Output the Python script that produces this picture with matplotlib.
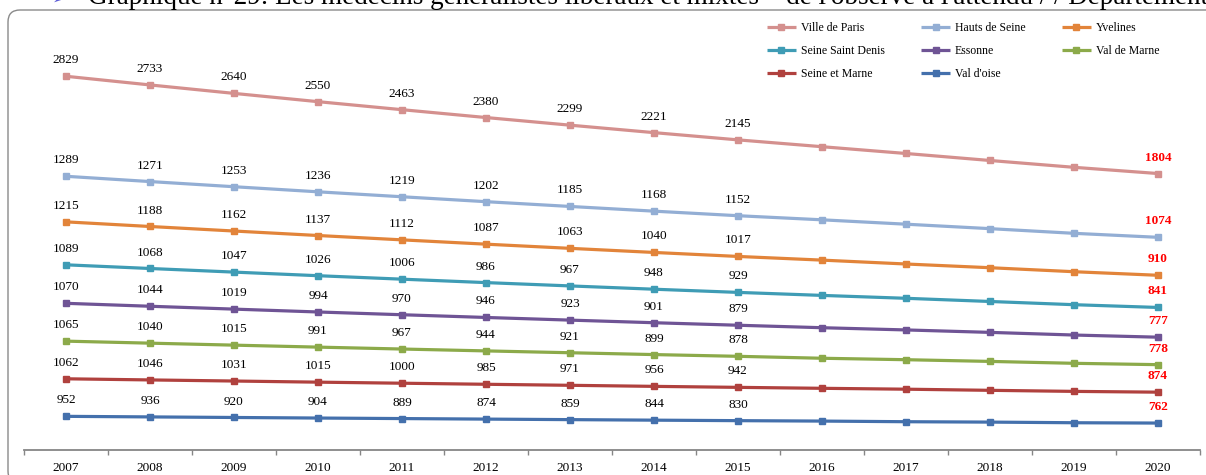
import numpy as np
import matplotlib
matplotlib.use('Agg')
import matplotlib.pyplot as plt
from matplotlib.patches import FancyBboxPatch
from matplotlib.transforms import IdentityTransform

plt.rcParams['font.family'] = ['Liberation Serif', 'DejaVu Serif']

# Données : effectifs par département (2016-2019)
annees = [str(a) for a in range(2007, 2021)]
departements = ['Ville de Paris', 'Hauts de Seine', 'Yvelines', 'Seine Saint Denis',
                'Essonne', 'Val de Marne', 'Seine et Marne', "Val d'oise"]
ville_de_paris = [2829, 2733, 2640, 2550, 2463, 2380, 2299, 2221, 2145, 2068, 2000, 1928, 1867, 1804]
hauts_de_seine = [1289, 1271, 1253, 1236, 1219, 1202, 1185, 1168, 1152, 1140, 1126, 1105, 1086, 1074]
yvelines = [1215, 1188, 1162, 1137, 1112, 1087, 1063, 1040, 1017, 998, 970, 955, 933, 910]
seine_saint_denis = [1089, 1068, 1047, 1026, 1006, 986, 967, 948, 929, 914, 895, 874, 858, 841]
essonne = [1070, 1044, 1019, 994, 970, 946, 923, 901, 879, 864, 842, 821, 800, 777]
val_de_marne = [1065, 1040, 1015, 991, 967, 944, 921, 899, 878, 850, 834, 818, 794, 778]
seine_et_marne = [1062, 1046, 1031, 1015, 1000, 985, 971, 956, 942, 927, 920, 899, 887, 874]
val_d_oise = [952, 936, 920, 904, 889, 874, 859, 844, 830, 818, 800, 789, 771, 762]
# années avec étiquette noire (2007-2015), la dernière en rouge
annees_etiquetees = annees[:9]

couleurs = ['#D4908E', '#93AED4', '#E2843A', '#3F9CB5',
            '#6F5495', '#8CAA4A', '#B0413E', '#4470AC']
series = [ville_de_paris, hauts_de_seine, yvelines, seine_saint_denis,
          essonne, val_de_marne, seine_et_marne, val_d_oise]

fig = plt.figure(figsize=(12.06, 4.75), dpi=100)
ax = fig.add_axes([24 / 1206, 25 / 475, 1176 / 1206, 420 / 475])
x = np.arange(len(annees))

# Courbes empilées : Val d'oise en bas, Ville de Paris en haut
cumul = np.zeros(len(annees))
lignes = {}
for nom, valeurs, coul in reversed(list(zip(departements, series, couleurs))):
    cumul = cumul + np.array(valeurs)
    l, = ax.plot(x, cumul, color=coul, lw=2.3, marker='s', markersize=4.5,
                 solid_capstyle='butt', zorder=3)
    lignes[nom] = l
    for i, v in enumerate(valeurs):
        if annees[i] in annees_etiquetees:
            ax.annotate(str(v), (i, cumul[i]), xytext=(0, 11.5), textcoords='offset points',
                        ha='center', va='center', fontsize=9.5, color='black')
        elif i == len(valeurs) - 1:
            ax.annotate(str(v), (i, cumul[i]), xytext=(0, 11.5), textcoords='offset points',
                        ha='center', va='center', fontsize=9.5, color='red', fontweight='bold')

ax.set_xlim(-0.5, len(annees) - 0.5)
ax.set_ylim(0, 11880)
for s in ['left', 'right', 'top']:
    ax.spines[s].set_visible(False)
ax.spines['bottom'].set_color('#868686')
ax.spines['bottom'].set_linewidth(1.3)
ax.set_yticks([])
ax.set_xticks(x)
ax.set_xticklabels(annees, fontsize=9.5)
ax.set_xticks(np.arange(-0.5, len(annees), 1), minor=True)
ax.tick_params(axis='x', which='major', length=0, pad=8.5)
ax.tick_params(axis='x', which='minor', length=3.6, width=1, color='#868686')

# Légende sur 3 colonnes, remplie ligne par ligne
ordre = ['Ville de Paris', 'Seine Saint Denis', 'Seine et Marne',
         'Hauts de Seine', 'Essonne', "Val d'oise",
         'Yvelines', 'Val de Marne']
fig.legend([lignes[n] for n in ordre], ordre, loc='upper left', ncol=3,
           bbox_to_anchor=(767 / 1206, 1 - 22 / 475), frameon=False, fontsize=8.5,
           handlelength=2.45, handletextpad=0.4, columnspacing=3.1,
           labelspacing=0.95, borderpad=0, borderaxespad=0)

# Cadre arrondi et titre coupé en haut
cadre = FancyBboxPatch((8, -8), 1220, 473, boxstyle='round,pad=0,rounding_size=12',
                       transform=IdentityTransform(), facecolor='none',
                       edgecolor='#8a8a8a', lw=1.0)
fig.add_artist(cadre)
fig.text(52 / 1206, 1 - 4 / 475, '➢', color='#5B5BD6', fontsize=13,
         family=['DejaVu Sans'], va='baseline')
fig.text(88 / 1206, 1 - 4 / 475,
         "Graphique n°29: Les médecins généralistes libéraux et mixtes – de l'observé à l'attendu / / Département",
         fontsize=19.5, va='baseline')

fig.savefig('out.png', dpi=100)
